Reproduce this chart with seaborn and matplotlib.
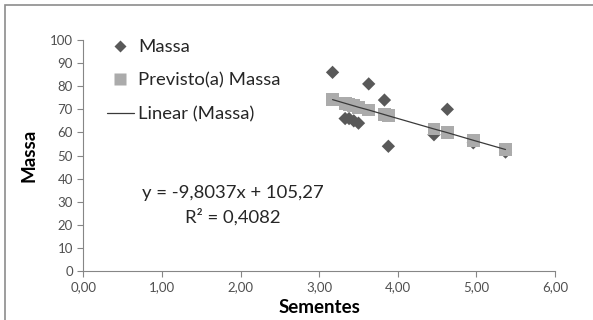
import matplotlib

matplotlib.use('Agg')

import matplotlib.pyplot as plt
import matplotlib.patches as mpatches
import seaborn as sns
import pandas as pd

# dados
sementes = [3.17, 3.33, 3.38, 3.44, 3.50, 3.63, 3.83, 3.88, 4.46, 4.63, 4.96, 5.37]
massa = [86, 66, 66, 65, 64, 81, 74, 54, 59, 70, 55.5, 51.5]
previsto = [74.2, 72.6, 72.1, 71.5, 70.9, 69.7, 67.7, 67.2, 61.5, 59.9, 56.6, 52.6]

x_ticks = [0, 1, 2, 3, 4, 5, 6]
y_ticks = [0, 10, 20, 30, 40, 50, 60, 70, 80, 90, 100]

equacao = 'y = -9,8037x + 105,27'
r2 = 'R² = 0,4082'

df = pd.DataFrame({
    'Sementes': sementes,
    'Massa': massa,
    'Previsto': previsto,
})

sns.set_style('white')
plt.rcParams['font.family'] = ['Lato', 'DejaVu Sans']

fig = plt.figure(
    figsize=(5.93, 3.20),
    dpi=100,
)

ax = fig.add_axes([0.1405, 0.153, 0.7955, 0.722])

sns.scatterplot(
    data=df,
    x='Sementes',
    y='Massa',
    marker='D',
    s=46,
    color='#595959',
    edgecolor='none',
    ax=ax,
    zorder=3,
)

sns.scatterplot(
    data=df,
    x='Sementes',
    y='Previsto',
    marker='s',
    s=85,
    color='#ABABAB',
    edgecolor='none',
    ax=ax,
    zorder=4,
)

sns.lineplot(
    data=df,
    x='Sementes',
    y='Previsto',
    color='#3a3a3a',
    linewidth=0.9,
    ax=ax,
    zorder=5,
)

ax.set_xlim(0, 6)
ax.set_ylim(0, 100)

ax.set_xticks(x_ticks)
ax.set_xticklabels([f'{v:.2f}'.replace('.', ',') for v in x_ticks])
ax.set_yticks(y_ticks)

ax.tick_params(
    axis='both',
    labelsize=9.5,
    labelcolor='#505050',
    color='#868686',
    length=4,
    width=0.8,
    direction='out',
    bottom=True,
    left=True,
)

for side in ['top', 'right']:
    ax.spines[side].set_visible(False)

for side in ['left', 'bottom']:
    ax.spines[side].set_color('#868686')
    ax.spines[side].set_linewidth(0.8)

ax.set_xlabel(
    'Sementes',
    fontsize=13.5,
    fontweight='bold',
    color='black',
    labelpad=4,
)

ax.set_ylabel(
    'Massa',
    fontsize=13.5,
    fontweight='bold',
    color='black',
    labelpad=9,
)

handles = [
    plt.Line2D([], [], marker='D', linestyle='none', color='#595959',
               markersize=6, markeredgecolor='none'),
    plt.Line2D([], [], marker='s', linestyle='none', color='#ABABAB',
               markersize=8.5, markeredgecolor='none'),
    plt.Line2D([], [], color='#3a3a3a', linewidth=0.9),
]

fig.legend(
    handles=handles,
    labels=['Massa', 'Previsto(a) Massa', 'Linear (Massa)'],
    loc='upper left',
    bbox_to_anchor=(0.180, 0.878),
    frameon=False,
    fontsize=13.3,
    handlelength=1.45,
    handletextpad=0.25,
    labelspacing=0.95,
    borderpad=0,
    borderaxespad=0,
    labelcolor='#262626',
)

fig.text(
    0.393, 0.397,
    equacao,
    fontsize=13.3,
    color='#262626',
    ha='center',
    va='center',
)

fig.text(
    0.393, 0.322,
    r2,
    fontsize=13.3,
    color='#262626',
    ha='center',
    va='center',
)

fig.add_artist(
    mpatches.Rectangle(
        (0.0085, -0.05),
        1.1,
        1.034,
        transform=fig.transFigure,
        fill=False,
        edgecolor='#8c8c8c',
        linewidth=1.2,
    )
)

fig.savefig('out.png', dpi=100)
plt.close(fig)
